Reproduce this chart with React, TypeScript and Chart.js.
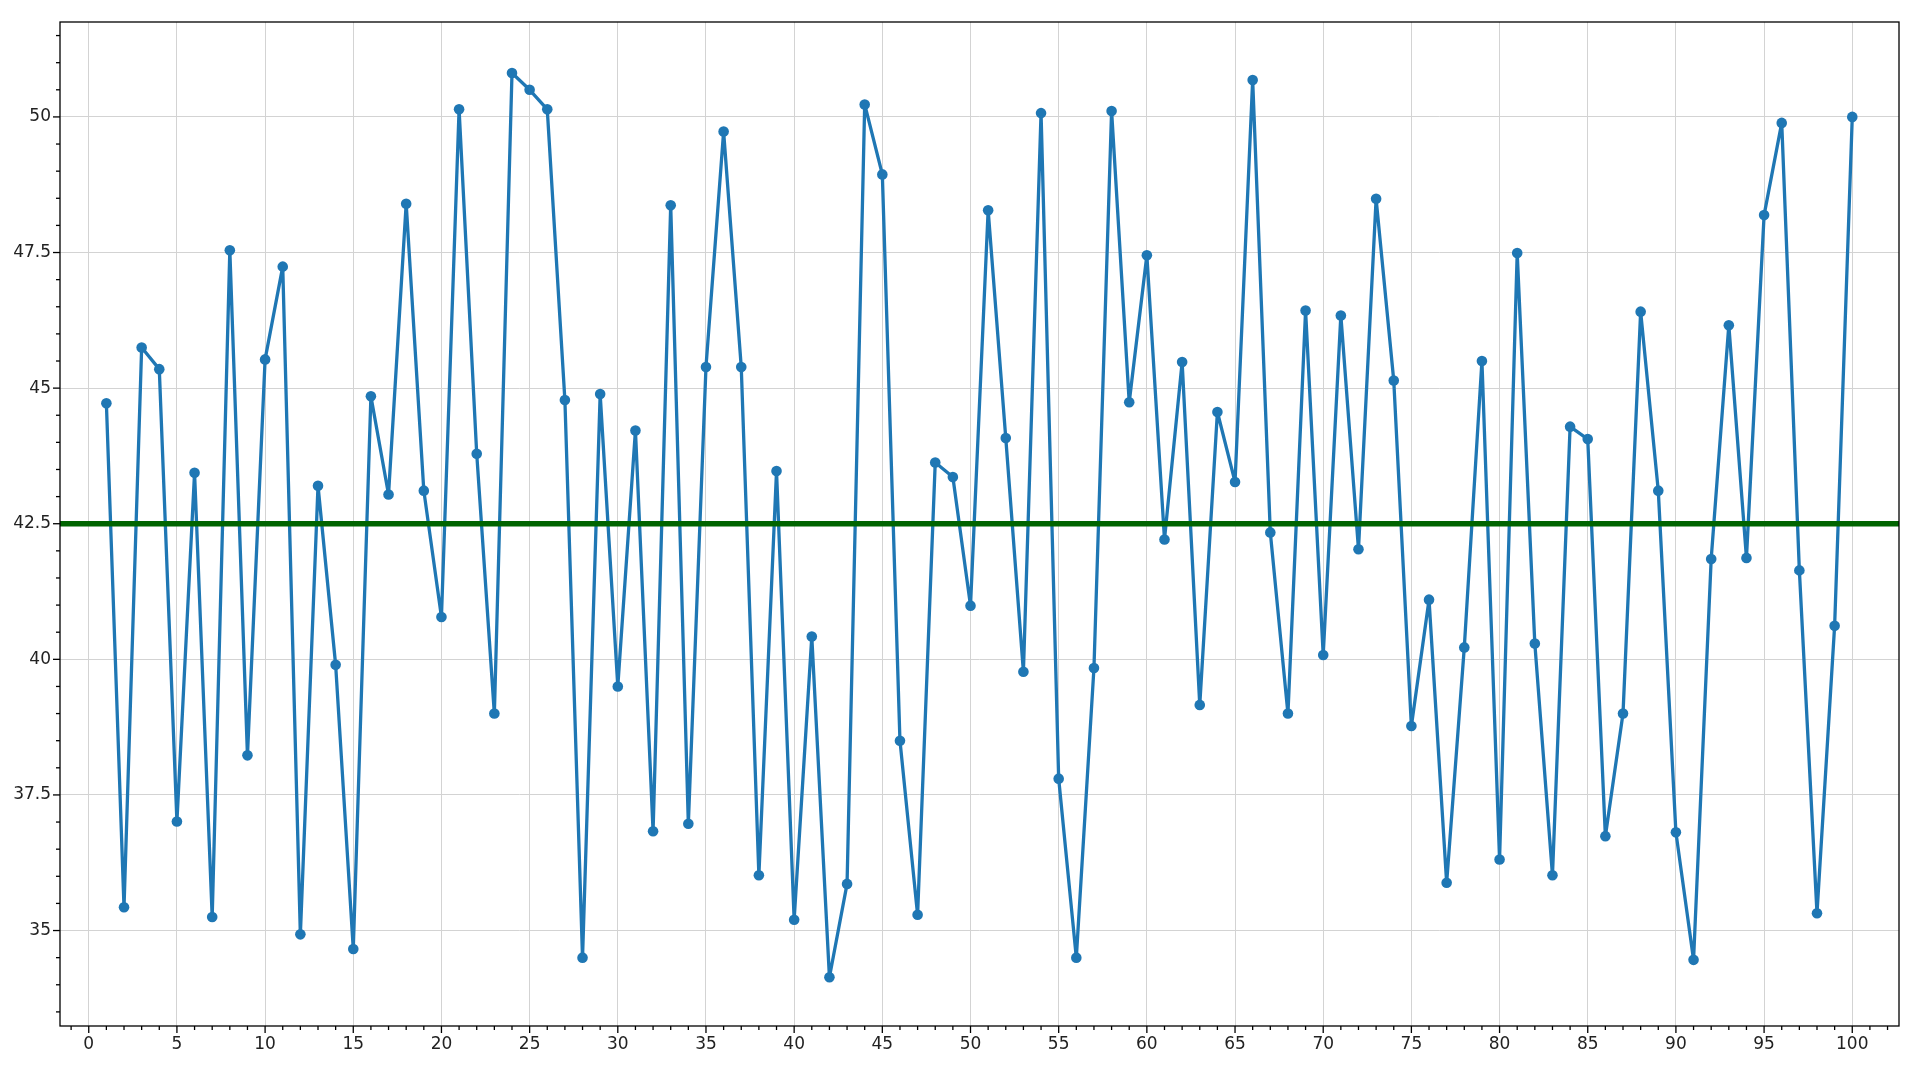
import React, { useEffect, useRef } from "react";
import { Chart, registerables } from "chart.js";

Chart.register(...registerables);

// values, one per x = 1..100
const seriesValues = [
  44.72, 35.43, 45.75, 45.35, 37.01, 43.44, 35.25, 47.54, 38.23, 45.53,
  47.24, 34.93, 43.2, 39.9, 34.66, 44.85, 43.04, 48.4, 43.11, 40.78,
  50.14, 43.79, 39.0, 50.81, 50.5, 50.14, 44.78, 34.5, 44.89, 39.5,
  44.22, 36.83, 48.37, 36.97, 45.39, 49.73, 45.39, 36.02, 43.47, 35.2,
  40.42, 34.14, 35.86, 50.23, 48.94, 38.5, 35.29, 43.63, 43.36, 40.99,
  48.28, 44.08, 39.77, 50.07, 37.8, 34.5, 39.84, 50.11, 44.74, 47.45,
  42.21, 45.48, 39.16, 44.56, 43.27, 50.68, 42.34, 39.0, 46.43, 40.08,
  46.34, 42.03, 48.49, 45.14, 38.77, 41.1, 35.88, 40.22, 45.5, 36.31,
  47.49, 40.29, 36.02, 44.29, 44.06, 36.74, 39.0, 46.41, 43.11, 36.81,
  34.46, 41.85, 46.16, 41.87, 48.19, 49.89, 41.64, 35.32, 40.62, 50.0,
];

const referenceLevel = 42.5;

const xMajorTicks = [0, 5, 10, 15, 20, 25, 30, 35, 40, 45, 50, 55, 60, 65, 70, 75, 80, 85, 90, 95, 100];
const yMajorTicks = [35, 37.5, 40, 42.5, 45, 47.5, 50];

const X_MIN = -1.63;
const X_MAX = 102.65;
const Y_MIN = 33.24;
const Y_MAX = 51.75;

// frame + matplotlib-like major/minor tick marks
const framePlugin = {
  id: "frame",
  afterDraw(chart: Chart) {
    const { ctx, chartArea, scales } = chart;
    const { left, right, top, bottom } = chartArea;
    ctx.save();
    ctx.strokeStyle = "#000";
    ctx.lineWidth = 1.3;

    for (let v = Math.ceil(X_MIN); v <= Math.floor(X_MAX); v++) {
      const px = scales.x.getPixelForValue(v);
      const len = v % 5 === 0 ? 7 : 4;
      ctx.beginPath();
      ctx.moveTo(px, bottom);
      ctx.lineTo(px, bottom + len);
      ctx.stroke();
    }
    for (let v = Math.ceil(Y_MIN * 2) / 2; v <= Y_MAX; v += 0.5) {
      const py = scales.y.getPixelForValue(v);
      const len = v % 2.5 === 0 ? 7 : 4;
      ctx.beginPath();
      ctx.moveTo(left, py);
      ctx.lineTo(left - len, py);
      ctx.stroke();
    }

    ctx.strokeRect(left, top, right - left, bottom - top);
    ctx.restore();
  },
};

export default function App() {
  const chartRef = useRef<HTMLCanvasElement | null>(null);
  const chartInstanceRef = useRef<Chart<"line"> | null>(null);

  useEffect(() => {
    if (!chartRef.current) return;
    const ctx = chartRef.current.getContext("2d");
    if (!ctx) return;

    if (chartInstanceRef.current) {
      chartInstanceRef.current.destroy();
    }

    const tickFont = { family: "DejaVu Sans", size: 17 };

    chartInstanceRef.current = new Chart(ctx, {
      type: "line",
      data: {
        datasets: [
          {
            label: "level",
            data: [
              { x: X_MIN, y: referenceLevel },
              { x: X_MAX, y: referenceLevel },
            ],
            borderColor: "#006400",
            borderWidth: 5.5,
            pointRadius: 0,
            order: 0,
          },
          {
            label: "values",
            data: seriesValues.map((v, i) => ({ x: i + 1, y: v })),
            borderColor: "#1f77b4",
            backgroundColor: "#1f77b4",
            borderWidth: 3.3,
            borderJoinStyle: "round",
            borderCapStyle: "round",
            pointRadius: 5.3,
            pointBorderWidth: 0,
            pointBackgroundColor: "#1f77b4",
            tension: 0,
            order: 1,
          },
        ],
      },
      options: {
        responsive: false,
        animation: false,
        layout: { padding: { top: 22, right: 21, left: 0, bottom: 0 } },
        plugins: {
          legend: { display: false },
          tooltip: { enabled: false },
        },
        scales: {
          x: {
            type: "linear",
            min: X_MIN,
            max: X_MAX,
            afterBuildTicks: (scale: any) => {
              scale.ticks = xMajorTicks.map((v) => ({ value: v }));
            },
            afterFit: (scale: any) => {
              scale.height = 54;
            },
            ticks: {
              color: "#222",
              font: tickFont,
              padding: 8,
              maxRotation: 0,
              autoSkip: false,
              callback: (v: any) => String(v),
            },
            grid: { color: "#d3d3d3", lineWidth: 1, drawTicks: false },
            border: { display: false },
          },
          y: {
            type: "linear",
            min: Y_MIN,
            max: Y_MAX,
            afterBuildTicks: (scale: any) => {
              scale.ticks = yMajorTicks.map((v) => ({ value: v }));
            },
            afterFit: (scale: any) => {
              scale.width = 60;
            },
            ticks: {
              color: "#222",
              font: tickFont,
              padding: 9,
              autoSkip: false,
              callback: (v: any) => (Number(v) % 1 === 0 ? String(v) : Number(v).toFixed(1)),
            },
            grid: { color: "#d3d3d3", lineWidth: 1, drawTicks: false },
            border: { display: false },
          },
        },
      },
      plugins: [framePlugin],
    });

    return () => {
      if (chartInstanceRef.current) {
        chartInstanceRef.current.destroy();
        chartInstanceRef.current = null;
      }
    };
  }, []);

  return (
    <div style={{ position: "fixed", left: 0, top: 0, width: 1920, height: 1080, background: "#fff" }}>
      <canvas ref={chartRef} width={1920} height={1080} style={{ width: 1920, height: 1080 }} />
    </div>
  );
}
